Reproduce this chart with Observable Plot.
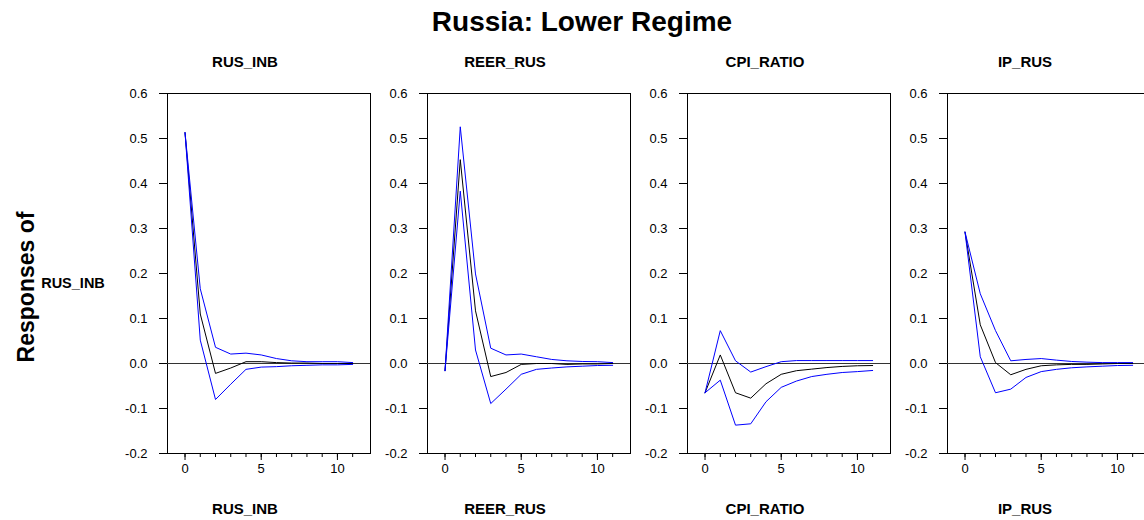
<!DOCTYPE html>
<html><head><meta charset="utf-8">
<script src="https://cdn.jsdelivr.net/npm/d3@7"></script>
<script src="https://cdn.jsdelivr.net/npm/@observablehq/plot@0.6"></script>
<style>
html,body{margin:0;padding:0;background:#fff;overflow:hidden}
#chart{position:relative;width:1144px;height:520px;overflow:hidden;background:#fff}
#chart svg.panel{position:absolute;top:80px}
#overlay{position:absolute;left:0;top:0}
</style></head><body><div id="chart"></div>
<script>
// ---- texts ----
const chartTitle = "Russia: Lower Regime";
const rowTitle = "Responses of";
const rowVariable = "RUS_INB";
const shocks = ["RUS_INB", "REER_RUS", "CPI_RATIO", "IP_RUS"];

// ---- axes ----
const horizons = [0, 1, 2, 3, 4, 5, 6, 7, 8, 9, 10, 11];
const yTicks = [-0.2, -0.1, 0.0, 0.1, 0.2, 0.3, 0.4, 0.5, 0.6];
const yTickLabels = ["-0.2", "-0.1", "0.0", "0.1", "0.2", "0.3", "0.4", "0.5", "0.6"];
const xMajorTicks = [0, 5, 10];
const xTickLabels = ["0", "5", "10"];

// ---- responses (estimate, upper band, lower band) ----
const inbMid = [0.513, 0.110, -0.022, -0.010, 0.004, 0.004, 0.002, 0.001, 0.001, 0.000, 0.000, 0.000];
const inbUp  = [0.513, 0.166, 0.036, 0.021, 0.023, 0.019, 0.011, 0.006, 0.004, 0.004, 0.004, 0.002];
const inbLo  = [0.513, 0.052, -0.080, -0.046, -0.013, -0.008, -0.007, -0.005, -0.004, -0.003, -0.003, -0.002];

const reerMid = [-0.016, 0.453, 0.117, -0.029, -0.020, -0.002, 0.000, 0.000, -0.002, -0.001, -0.001, 0.000];
const reerUp  = [-0.016, 0.526, 0.199, 0.034, 0.019, 0.021, 0.015, 0.009, 0.006, 0.0045, 0.004, 0.002];
const reerLo  = [-0.016, 0.383, 0.030, -0.089, -0.057, -0.024, -0.013, -0.010, -0.0075, -0.006, -0.0045, -0.004];

const cpiMid = [-0.065, 0.019, -0.065, -0.077, -0.045, -0.024, -0.016, -0.0125, -0.009, -0.0065, -0.005, -0.0045];
const cpiUp  = [-0.065, 0.073, 0.006, -0.019, -0.007, 0.004, 0.0065, 0.0065, 0.0065, 0.0065, 0.0065, 0.0065];
const cpiLo  = [-0.065, -0.037, -0.137, -0.134, -0.085, -0.053, -0.039, -0.029, -0.024, -0.020, -0.018, -0.0155];

const ipMid = [0.292, 0.086, 0.002, -0.025, -0.013, -0.005, -0.003, -0.002, -0.002, -0.001, 0.000, 0.000];
const ipUp  = [0.292, 0.155, 0.073, 0.006, 0.009, 0.011, 0.0075, 0.0045, 0.003, 0.002, 0.002, 0.002];
const ipLo  = [0.292, 0.015, -0.065, -0.057, -0.031, -0.018, -0.013, -0.0095, -0.0075, -0.006, -0.0045, -0.004];

const panels = [
  {mid: inbMid, up: inbUp, lo: inbLo},
  {mid: reerMid, up: reerUp, lo: reerLo},
  {mid: cpiMid, up: cpiUp, lo: cpiLo},
  {mid: ipMid, up: ipUp, lo: ipLo}
];

const FONT = "'Liberation Sans', Arial, Helvetica, sans-serif";
const chart = document.getElementById("chart");

panels.forEach((p, i) => {
  const svg = Plot.plot({
    width: 252,
    height: 410,
    marginLeft: 47,
    marginRight: 2,
    marginTop: 13,
    marginBottom: 37,
    x: {domain: [-1.15, 12.17], label: null},
    y: {domain: [-0.2, 0.6], nice: false, label: null},
    style: {fontFamily: FONT, fontSize: "13px", color: "#000", background: "transparent", overflow: "visible"},
    marks: [
      Plot.frame({stroke: "#000"}),
      Plot.ruleY([0], {stroke: "#333"}),
      Plot.axisY(yTicks, {tickSize: 8, tickPadding: 12, label: null,
        tickFormat: d => yTickLabels[yTicks.indexOf(d)]}),
      Plot.axisX(horizons, {tickSize: 4, label: null, tickFormat: () => ""}),
      Plot.axisX(xMajorTicks, {tickSize: 7, tickPadding: 3, label: null,
        tickFormat: d => xTickLabels[xMajorTicks.indexOf(d)]}),
      Plot.line(horizons, {x: d => d, y: (d, j) => p.mid[j], stroke: "#000", strokeWidth: 1}),
      Plot.line(horizons, {x: d => d, y: (d, j) => p.up[j], stroke: "#0000ff", strokeWidth: 1}),
      Plot.line(horizons, {x: d => d, y: (d, j) => p.lo[j], stroke: "#0000ff", strokeWidth: 1})
    ]
  });
  svg.classList.add("panel");
  svg.style.left = (120 + 260 * i) + "px";
  chart.appendChild(svg);
});

// ---- titles and labels ----
const ov = d3.select(chart).append("svg")
  .attr("id", "overlay").attr("width", 1144).attr("height", 520)
  .style("font-family", FONT).style("font-weight", "bold").attr("fill", "#000");

ov.append("text").attr("x", 582).attr("y", 31).attr("text-anchor", "middle")
  .attr("font-size", 28).text(chartTitle);

shocks.forEach((s, i) => {
  const cx = 245 + 260 * i;
  ov.append("text").attr("x", cx).attr("y", 67).attr("text-anchor", "middle")
    .attr("font-size", 15).text(s);
  ov.append("text").attr("x", cx).attr("y", 514).attr("text-anchor", "middle")
    .attr("font-size", 15).text(s);
});

ov.append("text").attr("transform", "translate(34,287) rotate(-90)")
  .attr("text-anchor", "middle").attr("font-size", 23).text(rowTitle);

ov.append("text").attr("x", 73).attr("y", 288).attr("text-anchor", "middle")
  .attr("font-size", 14.5).text(rowVariable);
</script></body></html>
